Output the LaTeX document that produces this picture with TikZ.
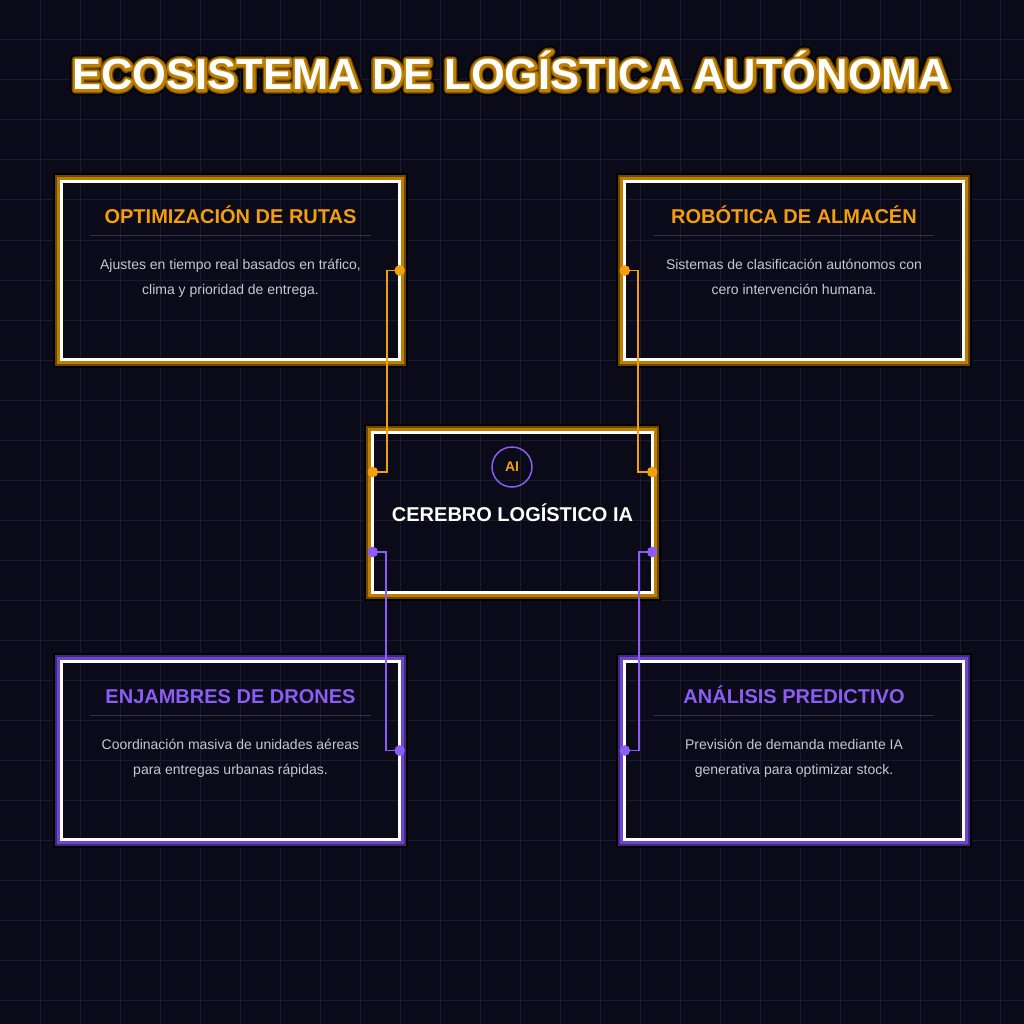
\documentclass[tikz,border=0pt]{standalone}
\usepackage{fontspec}
\setmainfont{Liberation Sans}
\newfontfamily\tfblack[FakeBold=24]{Liberation Sans Bold}
\newfontfamily\tfbrown[FakeBold=17]{Liberation Sans Bold}
\newfontfamily\tforange[FakeBold=11]{Liberation Sans Bold}
\newfontfamily\tfwhite{Liberation Sans Bold}
\usetikzlibrary{calc}
\definecolor{bg}{HTML}{0A0A18}
\definecolor{gridc}{HTML}{1B1B2F}
\definecolor{amber}{HTML}{F59E0B}
\definecolor{amid}{HTML}{BE7E00}
\definecolor{abrown}{HTML}{6E4800}
\definecolor{violet}{HTML}{8B5CF6}
\definecolor{vmid}{HTML}{6D45D0}
\definecolor{vdark}{HTML}{3F2A80}
\definecolor{desc}{HTML}{C8C8D4}
\definecolor{sepc}{HTML}{34344A}
\begin{document}
\begin{tikzpicture}[x=1pt,y=-1pt,
  gridline/.style={draw=gridc, line width=1pt},
  amberbox/.style={draw=none, inner sep=0pt,
    preaction={draw=black, line width=17.6pt},
    preaction={draw=abrown, line width=13.6pt},
    preaction={draw=amid, line width=9.6pt},
    preaction={fill=bg}},
  violetbox/.style={draw=none, inner sep=0pt,
    preaction={draw=black, line width=17.6pt},
    preaction={draw=vdark, line width=13.6pt},
    preaction={draw=vmid, line width=9.6pt},
    preaction={fill=bg}},
  whiteedge/.style={draw=white, line width=3pt},
  sidebox/.style={minimum width=338pt, minimum height=178pt},
  boxtitle/.style={font=\fontsize{20}{20}\selectfont\bfseries, anchor=base, inner sep=0pt},
  desctext/.style={font=\fontsize{14}{14}\selectfont, text=desc, anchor=base, inner sep=0pt},
  sepline/.style={draw=sepc, line width=1pt},
  aconn/.style={draw=amber, line width=1.8pt},
  vconn/.style={draw=violet, line width=1.8pt},
  mtitle/.style={anchor=base, inner sep=0pt}
]
\useasboundingbox (0,0) rectangle (1024,1024);
\fill[bg] (0,0) rectangle (1024,1024);
\foreach \i in {40,80,...,1000} {
  \draw[gridline] (\i,0) -- (\i,1024);
  \draw[gridline] (0,\i) -- (1024,\i);
}

% boxes (glow + fill)
\node[amberbox, sidebox] (tl) at (230.5,270.5) {};
\node[amberbox, sidebox] (tr) at (794,270.5) {};
\node[violetbox, sidebox] (bl) at (230.5,750.5) {};
\node[violetbox, sidebox] (br) at (794,750.5) {};
\node[amberbox, minimum width=279pt, minimum height=159pt] (cb) at (512.5,512.5) {};

% grid inside boxes
\begin{scope}
  \clip (tl.north west) rectangle (tl.south east)
        (tr.north west) rectangle (tr.south east)
        (bl.north west) rectangle (bl.south east)
        (br.north west) rectangle (br.south east)
        (cb.north west) rectangle (cb.south east);
  \foreach \i in {40,80,...,1000} {
    \draw[gridline] (\i,0) -- (\i,1024);
    \draw[gridline] (0,\i) -- (1024,\i);
  }
\end{scope}

% white edges
\foreach \b in {tl,tr,bl,br,cb}
  \draw[whiteedge] (\b.north west) rectangle (\b.south east);

% main title
\begin{scope}[line join=round, line cap=round]
\node[mtitle, text=black, line join=round] (mt0) at (511,90) {\fontsize{43.5}{44}\tfblack ECOSISTEMA DE LOGÍSTICA AUTÓNOMA};
\node[mtitle, text=abrown, line join=round] (mt1) at (511,90) {\fontsize{43.5}{44}\tfbrown ECOSISTEMA DE LOGÍSTICA AUTÓNOMA};
\node[mtitle, text=amid, line join=round] (mt2) at (511,90) {\fontsize{43.5}{44}\tforange ECOSISTEMA DE LOGÍSTICA AUTÓNOMA};
\node[mtitle, text=white] (mt) at (511,90) {\fontsize{43.5}{44}\tfwhite ECOSISTEMA DE LOGÍSTICA AUTÓNOMA};
\end{scope}

% box texts
\foreach \b/\c/\t/\la/\lb in {
  tl/amber/OPTIMIZACIÓN DE RUTAS/{Ajustes en tiempo real basados en tráfico,}/{clima y prioridad de entrega.},
  tr/amber/ROBÓTICA DE ALMACÉN/{Sistemas de clasificación autónomos con}/{cero intervención humana.},
  bl/violet/ENJAMBRES DE DRONES/{Coordinación masiva de unidades aéreas}/{para entregas urbanas rápidas.},
  br/violet/ANÁLISIS PREDICTIVO/{Previsión de demanda mediante IA}/{generativa para optimizar stock.}} {
  \node[boxtitle, text=\c] (\b-title) at ($(\b.north)+(0,42.5)$) {\t};
  \draw[sepline] ($(\b.north west)+(29,54)$) -- ($(\b.north east)+(-29,54)$);
  \node[desctext] (\b-d1) at ($(\b.north)+(0,88)$) {\la};
  \node[desctext] (\b-d2) at ($(\b.north)+(0,113)$) {\lb};
}

% central
\node[circle, draw=violet, line width=1.5pt, minimum size=40pt, inner sep=0pt,
      text=amber, font=\fontsize{14}{14}\selectfont\bfseries] (ai) at (512,467) {AI};
\node[boxtitle, text=white] (ct) at (512.5,521) {CEREBRO LOGÍSTICO IA};

% connector anchors
\coordinate (cL1) at ($(cb.west)+(0,-40.5)$);
\coordinate (cL2) at ($(cb.west)+(0,39.5)$);
\coordinate (cR1) at ($(cb.east)+(0,-40.5)$);
\coordinate (cR2) at ($(cb.east)+(0,39.5)$);

\draw[aconn] (tl.east) -- ++(-13,0) |- (cL1);
\draw[aconn] (tr.west) -- ++(13.5,0) |- (cR1);
\draw[vconn] (cL2) -- ++(13.5,0) |- (bl.east);
\draw[vconn] (cR2) -- ++(-13.5,0) |- (br.west);

\foreach \p in {tl.east, tr.west, cL1, cR1} \fill[amber] (\p) circle (5.3);
\foreach \p in {bl.east, br.west, cL2, cR2} \fill[violet] (\p) circle (5.3);
\end{tikzpicture}
\end{document}
